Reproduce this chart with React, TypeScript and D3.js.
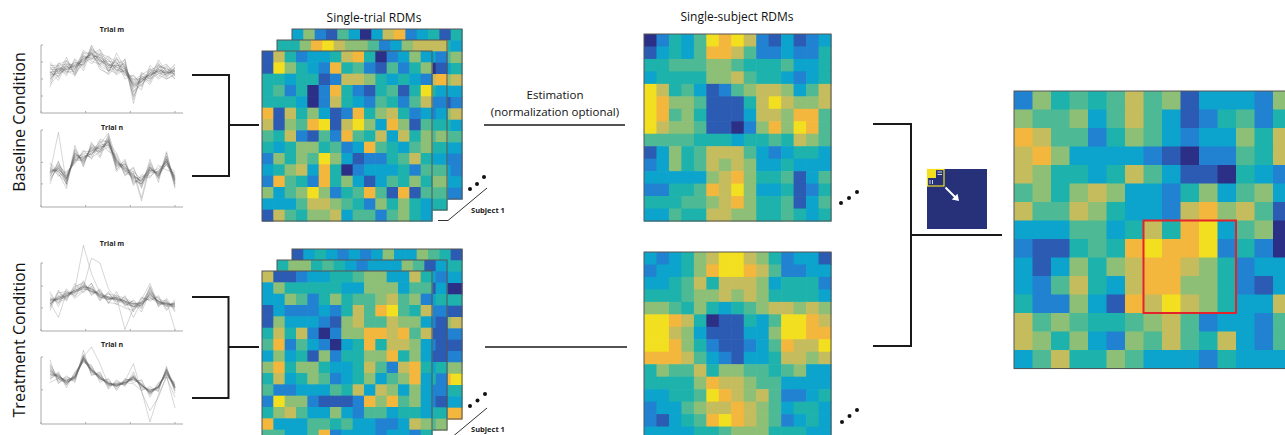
import React from "react";
import * as d3 from "d3";

// ---------- palette (parula-like, 10 levels) ----------
const PARULA = ["#2c2f86", "#2b5bb2", "#2182d1", "#0ca4cc", "#1eb2ad", "#4dba95", "#8ebf76", "#c5bc5e", "#f4b73d", "#f2df20"];
const LEVELS = [0, 1, 2, 3, 4, 5, 6, 7, 8, 9];

// ---------- time axis of the trial plots ----------
const SAMPLE_TIMES = [20, 39, 57, 76, 95, 113, 132, 151, 169, 188, 207, 225, 244, 263, 281, 300];
const TIME_TICKS = [0, 100, 200, 300];

// ---------- trial waveforms (0 = bottom of axis, 100 = top) ----------
const BASE_M_LINES = [
  "45 70 60 75 70 95 70 80 62 75 30 55 45 70 52 68",
  "68 52 78 58 90 78 92 60 82 55 50 38 66 52 68 50",
  "55 66 55 80 66 100 74 64 58 80 20 58 50 78 60 72",
  "72 58 82 54 84 72 88 82 76 50 56 40 62 56 50 58",
  "38 74 64 70 76 90 64 58 88 66 26 52 42 66 72 54",
  "62 48 72 64 92 84 82 72 64 60 44 34 70 58 56 66",
  "50 64 58 78 62 92 86 66 72 78 14 60 52 72 62 50",
  "75 60 70 60 86 76 72 84 66 56 54 44 60 50 58 70",
  "58 72 76 68 72 98 80 62 80 70 36 50 48 68 66 56",
  "42 56 66 72 80 86 94 70 60 62 40 46 58 74 54 62",
  "66 68 62 56 74 80 76 76 74 58 48 56 64 60 70 60",
  "54 62 74 66 88 88 68 56 70 72 32 42 54 64 60 64",
  "60 54 68 74 70 94 84 74 56 64 46 52 56 62 50 56",
  "48 66 60 62 82 82 78 68 78 68 24 48 62 70 64 62",
  "70 70 72 70 78 88 70 62 68 60 42 54 50 58 60 58",
  "56 58 64 64 84 80 86 78 62 66 38 46 58 66 56 66",
  "64 64 70 58 76 90 76 70 74 64 50 50 56 62 62 60",
  "52 60 66 68 80 86 80 66 70 68 44 48 54 64 58 62",
  "60 62 68 66 78 84 82 70 70 66 40 50 56 60 60 58",
  "58 66 64 70 76 88 78 72 68 62 42 46 58 62 58 62",
];
const BASE_N_LINES = [
  "30 60 28 80 52 84 66 94 48 62 30 40 38 54 48 44",
  "56 40 46 56 74 62 86 72 68 40 52 24 62 32 72 26",
  "44 97 30 72 58 78 70 88 54 56 36 30 46 50 58 40",
  "36 52 42 60 70 68 82 96 62 44 46 12 56 36 66 24",
  "58 44 24 76 56 80 72 78 52 60 28 42 40 48 54 46",
  "40 58 38 62 66 66 88 84 70 46 50 28 58 38 70 30",
  "50 46 34 70 60 76 64 90 46 58 32 36 44 46 62 38",
  "34 54 44 58 72 72 78 80 64 42 44 8 52 40 56 34",
  "48 48 30 74 54 82 74 86 56 52 38 38 48 44 64 28",
  "42 56 40 64 64 70 80 82 60 50 42 32 50 42 60 36",
  "46 50 36 68 62 74 76 84 58 48 40 34 54 40 62 34",
  "52 42 32 66 68 64 72 92 56 54 34 30 48 46 58 40",
  "38 50 38 62 60 78 78 80 62 50 46 36 52 38 66 32",
  "44 52 36 70 58 72 84 86 50 56 40 26 46 44 60 36",
  "46 48 40 64 64 70 74 88 60 46 38 34 50 42 56 38",
  "40 54 34 68 62 76 76 82 58 52 42 32 52 40 62 34",
  "48 46 36 66 66 68 80 84 54 50 36 30 48 44 60 36",
  "44 50 38 60 62 74 72 86 60 48 40 34 50 42 58 30",
];
const TREAT_M_LINES = [
  "30 58 44 70 56 70 44 58 38 52 28 50 44 52 32 46",
  "54 40 62 50 74 52 62 40 58 36 46 32 64 36 48 30",
  "44 46 50 62 126 84 56 50 44 40 36 38 50 40 42 34",
  "36 56 58 52 60 70 48 54 52 48 42 28 58 48 36 42",
  "50 42 48 66 70 56 58 42 40 34 30 46 70 38 46 28",
  "40 52 56 56 64 107 100 62 46 46 40 42 48 44 38 40",
  "46 44 52 60 66 62 50 46 50 2 34 36 56 42 40 36",
  "38 50 54 58 62 58 54 50 46 44 20 44 52 46 44 2",
  "48 46 50 62 68 60 52 48 48 42 38 40 60 40 38 38",
  "42 20 56 54 64 64 50 46 50 44 36 38 54 44 40 40",
  "46 48 52 58 66 58 56 48 46 42 40 42 62 42 42 36",
  "40 50 54 60 64 62 52 50 48 44 38 40 54 44 38 40",
  "44 48 52 56 68 60 54 46 50 40 36 38 56 40 40 38",
  "42 50 50 58 62 60 52 48 48 44 40 40 50 44 36 36",
  "58 36 60 48 58 66 46 56 42 50 32 48 46 50 30 44",
  "34 60 46 64 72 54 60 42 54 38 44 34 66 36 44 32",
  "46 46 56 58 66 62 54 48 46 42 36 42 58 42 40 38",
  "40 48 52 60 64 58 50 50 50 44 40 40 52 44 40 40",
];
const TREAT_N_LINES = [
  "96 60 72 62 110 72 78 52 66 56 78 50 56 48 86 46",
  "66 78 54 78 92 88 62 68 50 68 62 66 40 62 70 62",
  "84 66 70 66 104 76 76 56 62 58 74 54 52 52 82 50",
  "72 74 58 74 96 84 66 64 54 66 66 60 44 58 74 58",
  "88 70 66 70 100 115 90 58 60 60 70 56 50 54 80 54",
  "62 68 60 72 94 80 72 62 56 64 90 48 20 40 72 24",
  "80 72 64 68 98 78 68 60 58 62 60 50 3 44 70 40",
  "76 70 62 70 100 82 70 60 60 62 68 58 48 56 78 56",
  "82 68 64 72 98 80 70 58 58 60 70 58 48 56 80 54",
  "74 72 62 68 96 80 68 62 56 62 68 60 46 54 76 56",
  "90 64 68 64 102 74 74 54 64 58 72 52 52 50 84 50",
  "70 76 58 76 96 86 66 66 52 66 66 64 44 60 74 60",
  "78 70 64 70 98 80 72 60 60 64 70 58 50 56 78 54",
  "80 68 62 72 100 82 70 58 58 60 68 58 48 54 80 56",
  "74 72 62 68 96 78 68 62 56 62 70 60 46 56 76 52",
  "86 62 66 70 102 80 70 60 58 62 72 56 50 54 82 58",
  "68 74 60 70 94 82 68 60 58 62 66 58 46 56 74 54",
  "78 70 64 70 98 80 70 60 58 62 70 58 48 56 78 54",
];

// ---------- RDM cells (digit = colour level 0..9) ----------
const TOP_TRIAL_FRONT = [
  "174233478402363", "196432845215246", "443441277643432", "452402842145149", "444302743254257",
  "817463128467423", "716589179638615", "547215285473746", "434664523854356", "264659631224574",
  "346738402333425", "285428463135464", "635696245851815", "333577654264643", "175466735525643",
];
const TOP_TRIAL_MID_TOP = "446897665236777";
const TOP_TRIAL_MID_C13 = "30742245435654";
const TOP_TRIAL_MID_C14 = "21832346435654";
const TOP_TRIAL_BACK_TOP = "362153037823414";
const TOP_TRIAL_BACK_C13 = "45363164532332";
const TOP_TRIAL_BACK_C14 = "36473273532232";

const BOT_TRIAL_FRONT = [
  "711233445663374", "364444433666355", "336524645567562", "132223247589547", "163332167557663",
  "474720266887857", "582532034847763", "363416244668463", "684664334752784", "473465234635683",
  "522333547376363", "296621112868563", "467533632553443", "833355453322376", "553358233323324",
];
const BOT_TRIAL_MID_TOP = "466454323336513";
const BOT_TRIAL_MID_C13 = "31322121342245";
const BOT_TRIAL_MID_C14 = "23421111422146";
const BOT_TRIAL_BACK_TOP = "134323236336541";
const BOT_TRIAL_BACK_C13 = "43041621268438";
const BOT_TRIAL_BACK_C14 = "43041721269438";

const TOP_SUBJECT = [
  "024359897213123", "134358875223224", "445556654445334", "344446675443234", "974531256776357",
  "986651114797667", "985641113776885", "976651102686985", "555544434454765", "136457775323443",
  "236457676334333", "333336786445135", "224458796334124", "444556786445135", "335447766445434",
];
const BOT_SUBJECT = [
  "323467997642331", "233468998752233", "334574777634442", "444566767644443", "665464345677676",
  "998740114359987", "997631113369988", "998642112358779", "888753213347767", "465574665545633",
  "444468776553333", "334459876752234", "233567787653443", "213458987652343", "333344566644433",
];
const GROUP_RDM = [
  "264545756133326", "655635753124524", "875524653233647", "786333321022547", "764434753110432",
  "564676332463563", "755764332786751", "333553474893560", "211454898892420", "313646788764233",
  "325743788664213", "422631879764337", "756544567523325", "764632657547325", "357446533324333",
];
const HIGHLIGHT_ROWS = [7, 11];
const HIGHLIGHT_COLS = [7, 11];

const N = 15;
const FONT = "'Open Sans', 'Noto Sans', sans-serif";
const color = d3.scaleLinear<string>().domain(LEVELS).range(PARULA);
const idx = d3.range(N);

function Heatmap({ rows, x, y, size }: { rows: string[]; x: number; y: number; size: number }) {
  const bx = d3.scaleBand<number>().domain(idx).range([x, x + size]);
  const by = d3.scaleBand<number>().domain(idx).range([y, y + size]);
  return (
    <g>
      {rows.map((r, i) =>
        r.split("").map((c, j) => (
          <rect key={`${i}-${j}`} x={bx(j)} y={by(i)} width={bx.bandwidth() + 0.6} height={by.bandwidth() + 0.6} fill={color(+c)} />
        ))
      )}
      <rect x={x} y={y} width={size} height={size} fill="none" stroke="#555" strokeWidth={1} />
    </g>
  );
}

function EdgeLayer({ top, c13, c14, x, y, size }: { top: string; c13: string; c14: string; x: number; y: number; size: number }) {
  const bx = d3.scaleBand<number>().domain(idx).range([x, x + size]);
  const by = d3.scaleBand<number>().domain(idx).range([y, y + size]);
  const bw = bx.bandwidth() + 0.6;
  return (
    <g>
      {top.split("").map((c, j) => (
        <rect key={`t${j}`} x={bx(j)} y={by(0)} width={bw} height={bw} fill={color(+c)} />
      ))}
      {c13.split("").map((c, i) => (
        <rect key={`a${i}`} x={bx(13)} y={by(i + 1)} width={bw} height={bw} fill={color(+c)} />
      ))}
      {c14.split("").map((c, i) => (
        <rect key={`b${i}`} x={bx(14)} y={by(i + 1)} width={bw} height={bw} fill={color(+c)} />
      ))}
      <rect x={x} y={y} width={size} height={size} fill="none" stroke="#555" strokeWidth={1} />
    </g>
  );
}

function LinePanel({ lines, top, bottom, yTicks, title, titleY }: { lines: string[]; top: number; bottom: number; yTicks: number[]; title: string; titleY: number }) {
  const x = d3.scaleLinear().domain([0, 300]).range([41, 175]);
  const y = d3.scaleLinear().domain([0, 100]).range([bottom, top]);
  const line = d3.line<number>().x((_, i) => x(SAMPLE_TIMES[i])).y((d) => y(d));
  return (
    <g>
      <line x1={41} x2={183} y1={bottom} y2={bottom} stroke="#aaa" strokeWidth={1} />
      <line x1={41} x2={41} y1={top} y2={bottom} stroke="#aaa" strokeWidth={1} />
      {TIME_TICKS.map((t) => (
        <line key={t} x1={x(t)} x2={x(t)} y1={bottom} y2={bottom - 2} stroke="#aaa" />
      ))}
      {yTicks.map((t) => (
        <line key={t} x1={41} x2={43} y1={y(t)} y2={y(t)} stroke="#aaa" />
      ))}
      {lines.map((s, k) => (
        <path key={k} d={line(s.split(" ").map(Number)) || ""} fill="none" stroke="#666" strokeOpacity={0.45} strokeWidth={0.6} />
      ))}
      <text x={112} y={titleY} textAnchor="middle" fontSize={7} fontWeight={700} fill="#222" fontFamily={FONT}>
        {title}
      </text>
    </g>
  );
}

function Dots({ pts }: { pts: number[][] }) {
  return (
    <g>
      {pts.map((p, i) => (
        <circle key={i} cx={p[0]} cy={p[1]} r={2} fill="#111" />
      ))}
    </g>
  );
}

export default function App() {
  const gx = d3.scaleBand<number>().domain(idx).range([1014, 1014 + 277.5]);
  const gy = d3.scaleBand<number>().domain(idx).range([91, 91 + 277.5]);
  const hx0 = gx(HIGHLIGHT_COLS[0])!;
  const hx1 = gx(HIGHLIGHT_COLS[1])! + gx.bandwidth();
  const hy0 = gy(HIGHLIGHT_ROWS[0])!;
  const hy1 = gy(HIGHLIGHT_ROWS[1])! + gy.bandwidth();
  const blk = "#1a1a1a";
  return (
    <svg width={1285} height={435} style={{ position: "fixed", left: 0, top: 0, background: "#fff" }} fontFamily={FONT}>
      <rect x={0} y={0} width={1285} height={435} fill="#fff" />

      {/* condition labels */}
      <text transform="translate(25,122) rotate(-90)" textAnchor="middle" fontSize={16} fill="#111">Baseline Condition</text>
      <text transform="translate(25,340) rotate(-90)" textAnchor="middle" fontSize={16} fill="#111">Treatment Condition</text>

      {/* trial plots */}
      <LinePanel lines={BASE_M_LINES} top={45} bottom={113} yTicks={[25, 50, 75, 100]} title="Trial m" titleY={32} />
      <LinePanel lines={BASE_N_LINES} top={130} bottom={207} yTicks={[30, 58, 100]} title="Trial n" titleY={130} />
      <LinePanel lines={TREAT_M_LINES} top={263} bottom={331} yTicks={[34, 66, 100]} title="Trial m" titleY={246} />
      <LinePanel lines={TREAT_N_LINES} top={357} bottom={424} yTicks={[51, 100]} title="Trial n" titleY={347} />

      {/* left brackets */}
      <g stroke={blk} strokeWidth={2} fill="none">
        <path d="M192,75 H229 V176 H192 M229,125 H259" />
        <path d="M192,297 H228.5 V398 H192 M228.5,347 H259" />
      </g>

      {/* single-trial RDM stacks */}
      <text x={374} y={22} textAnchor="middle" fontSize={12} fill="#111">Single-trial RDMs</text>
      <EdgeLayer top={TOP_TRIAL_BACK_TOP} c13={TOP_TRIAL_BACK_C13} c14={TOP_TRIAL_BACK_C14} x={292} y={29} size={170} />
      <EdgeLayer top={TOP_TRIAL_MID_TOP} c13={TOP_TRIAL_MID_C13} c14={TOP_TRIAL_MID_C14} x={277} y={40} size={170} />
      <Heatmap rows={TOP_TRIAL_FRONT} x={262} y={51} size={170} />

      <EdgeLayer top={BOT_TRIAL_BACK_TOP} c13={BOT_TRIAL_BACK_C13} c14={BOT_TRIAL_BACK_C14} x={292} y={249} size={170} />
      <EdgeLayer top={BOT_TRIAL_MID_TOP} c13={BOT_TRIAL_MID_C13} c14={BOT_TRIAL_MID_C14} x={277} y={260} size={170} />
      <Heatmap rows={BOT_TRIAL_FRONT} x={262} y={271} size={170} />

      {/* subject labels */}
      <g stroke="#333" strokeWidth={1} fill="none">
        <path d="M438,220.5 H448 L487,188" />
        <path d="M438,440.5 H448 L487,408" />
      </g>
      <text x={471} y={213} fontSize={7.5} fontWeight={700} fill="#222">Subject 1</text>
      <text x={471} y={432} fontSize={7.5} fontWeight={700} fill="#222">Subject 1</text>
      <Dots pts={[[470, 189], [477, 184], [484, 177]]} />
      <Dots pts={[[470, 406], [477.5, 400.5], [485, 394]]} />

      {/* estimation */}
      <text x={555} y={98.5} textAnchor="middle" fontSize={11.5} fill="#111">Estimation</text>
      <text x={555} y={115.5} textAnchor="middle" fontSize={11.5} fill="#111">(normalization optional)</text>
      <line x1={484} x2={625} y1={125} y2={125} stroke={blk} strokeWidth={1.5} />
      <line x1={485} x2={627} y1={347} y2={347} stroke={blk} strokeWidth={1.5} />

      {/* single-subject RDMs */}
      <text x={737} y={21} textAnchor="middle" fontSize={12} fill="#111">Single-subject RDMs</text>
      <Heatmap rows={TOP_SUBJECT} x={644} y={34} size={187} />
      <Heatmap rows={BOT_SUBJECT} x={644} y={252} size={187} />
      <Dots pts={[[841, 203], [849, 198], [857, 192]]} />
      <Dots pts={[[842, 422], [849.5, 416], [857, 410]]} />

      {/* right bracket */}
      <g stroke={blk} strokeWidth={2} fill="none">
        <path d="M873,124 H911 V346 H873 M911,235 H1002" />
      </g>

      {/* inset */}
      <rect x={927} y={169} width={60} height={60} fill="#26317a" />
      <rect x={927.5} y={169.5} width={16.5} height={16.5} fill="#26317a" stroke="#f2df20" strokeWidth={1.2} />
      <rect x={927.5} y={169.5} width={8.5} height={8.5} fill="#f2df20" />
      <g stroke="#fff" strokeWidth={0.8}>
        <line x1={937.5} x2={942} y1={172} y2={172} />
        <line x1={937.5} x2={942} y1={174.5} y2={174.5} />
        <line x1={930} x2={930} y1={180} y2={184} />
        <line x1={932.5} x2={932.5} y1={180} y2={184} />
      </g>
      <line x1={945.5} y1={187.5} x2={955.5} y2={197.5} stroke="#fff" strokeWidth={2} />
      <polygon points="959,201 957.5,193.8 951.8,199.5" fill="#fff" />

      {/* group RDM */}
      <Heatmap rows={GROUP_RDM} x={1014} y={91} size={277.5} />
      <rect x={hx0} y={hy0} width={hx1 - hx0} height={hy1 - hy0} fill="none" stroke="#e3222b" strokeWidth={2} />
    </svg>
  );
}
